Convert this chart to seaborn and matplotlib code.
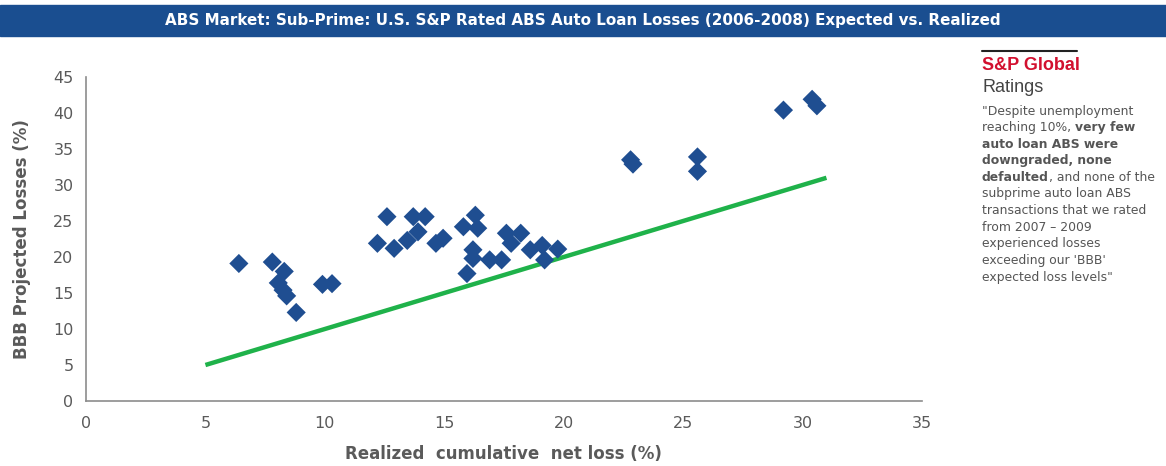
import matplotlib
matplotlib.use("Agg")
import matplotlib.pyplot as plt
import seaborn as sns
import pandas as pd
from matplotlib.patches import Rectangle
from matplotlib.lines import Line2D

# realized cumulative net loss (%) vs BBB projected losses (%)
realized = [6.4, 7.8, 8.3, 8.05, 8.25, 8.4, 8.8, 9.9, 10.3, 12.2, 12.6, 12.9,
            13.45, 13.7, 13.9, 14.2, 14.65, 14.95, 15.8, 15.95, 16.2, 16.2,
            16.3, 16.4, 16.9, 17.4, 17.6, 17.8, 18.2, 18.6, 19.1, 19.2, 19.75,
            22.8, 22.9, 25.6, 25.6, 29.2, 30.4, 30.6]
projected = [19.1, 19.3, 18.0, 16.4, 15.4, 14.6, 12.3, 16.2, 16.3, 21.9, 25.6,
             21.2, 22.3, 25.6, 23.5, 25.6, 21.9, 22.6, 24.2, 17.7, 21.0, 19.8,
             25.8, 24.0, 19.6, 19.6, 23.3, 21.9, 23.3, 21.0, 21.6, 19.6, 21.1,
             33.5, 32.9, 33.9, 31.9, 40.4, 41.9, 41.0]
# 45 degree reference line (expected = realized)
line_x = [5, 31]
line_y = [5, 31]

xticks = [0, 5, 10, 15, 20, 25, 30, 35]
yticks = [0, 5, 10, 15, 20, 25, 30, 35, 40, 45]

title = "ABS Market: Sub-Prime: U.S. S&P Rated ABS Auto Loan Losses (2006-2008) Expected vs. Realized"

sns.set_style("white")
plt.rcParams['font.family'] = ['DejaVu Sans']

df = pd.DataFrame({'realized': realized, 'projected': projected})
ref = pd.DataFrame({'x': line_x, 'y': line_y})

fig = plt.figure(figsize=(11.66, 4.66), dpi=100)
ax = fig.add_axes([86/1166, 1 - 401/466, 836/1166, 324/466])

sns.lineplot(data=ref, x='x', y='y', ax=ax, color='#1fb24a', lw=3.2,
             solid_capstyle='butt', zorder=2)
sns.scatterplot(data=df, x='realized', y='projected', ax=ax, marker='D',
                s=95, color='#1f4e91', edgecolor='none', zorder=3)

ax.set_xlim(0, 35)
ax.set_ylim(0, 45)
ax.set_xticks(xticks)
ax.set_yticks(yticks)
gray = '#5a5a5a'
ax.tick_params(axis='both', labelsize=11.5, labelcolor=gray, color='#8c8c8c',
               length=5, width=1)
ax.tick_params(axis='x', direction='inout', pad=8)
ax.tick_params(axis='y', direction='out', pad=4)
for s in ['top', 'right']:
    ax.spines[s].set_visible(False)
for s in ['left', 'bottom']:
    ax.spines[s].set_color('#8c8c8c')
    ax.spines[s].set_linewidth(1.2)

ax.set_xlabel("Realized  cumulative  net loss (%)", fontsize=12,
              fontweight='bold', color=gray)
ax.set_ylabel("BBB Projected Losses (%)", fontsize=12, fontweight='bold',
              color=gray)
ax.xaxis.set_label_coords(0.499, -0.136)
ax.yaxis.set_label_coords(-0.066, 0.5)

# title bar
fig.patches.append(Rectangle((0, 1 - 36/466), 1, 31/466, transform=fig.transFigure,
                             color='#1a4e90', zorder=0))
fig.text(0.5, 1 - 20/466, title, ha='center', va='center', color='white',
         fontsize=10.9, fontweight='bold')

# side panel
fig.add_artist(Line2D([982/1166, 1077/1166], [1 - 51/466, 1 - 51/466],
                      transform=fig.transFigure, color='#222222', lw=1.5))
fig.text(982/1166, 1 - 65/466, "S&P Global", color='#d2102f', fontsize=13,
         fontweight='bold', va='center', family='Liberation Sans')
fig.text(982/1166, 1 - 87/466, "Ratings", color='#444444', fontsize=13,
         va='center', family='Liberation Sans')

quote = [
    [("\"Despite unemployment", 'normal')],
    [("reaching 10%, ", 'normal'), ("very few", 'bold')],
    [("auto loan ABS were", 'bold')],
    [("downgraded, none", 'bold')],
    [("defaulted", 'bold'), (", and none of the", 'normal')],
    [("subprime auto loan ABS", 'normal')],
    [("transactions that we rated", 'normal')],
    [("from 2007 \u2013 2009", 'normal')],
    [("experienced losses", 'normal')],
    [("exceeding our 'BBB'", 'normal')],
    [("expected loss levels\"", 'normal')],
]
y0 = 111
for i, parts in enumerate(quote):
    y = 1 - (y0 + i * 16.6) / 466
    prev = None
    for txt, w in parts:
        if prev is None:
            prev = fig.text(982/1166, y, txt, fontsize=8.9, fontweight=w,
                            color='#555555', va='center')
        else:
            prev = ax.annotate(txt, xy=(1, 0.5), xycoords=prev, va='center',
                               ha='left', fontsize=8.9, fontweight=w,
                               color='#555555', annotation_clip=False)

fig.savefig('out.png', dpi=100)
